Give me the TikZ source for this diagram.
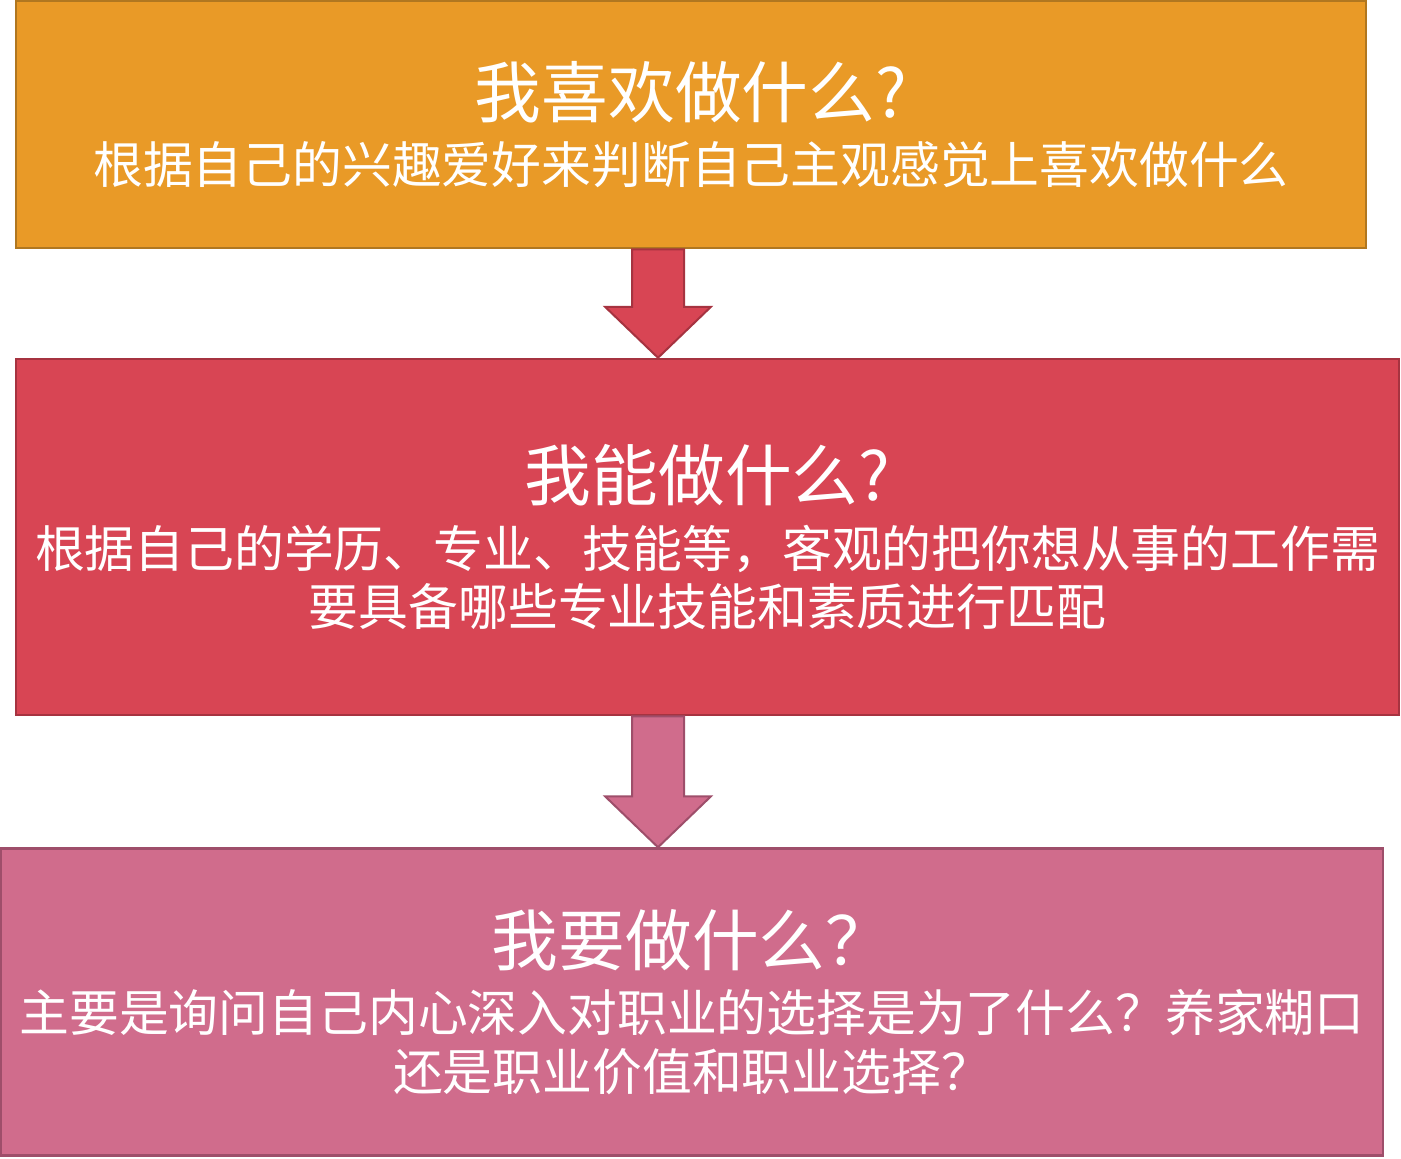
\documentclass[tikz,border=0pt]{standalone}
\usepackage{fontspec}
\setmainfont{Noto Sans CJK SC}
\usetikzlibrary{calc}
\definecolor{likefill}{HTML}{E99A27}
\definecolor{likeline}{HTML}{B07720}
\definecolor{canfill}{HTML}{D84554}
\definecolor{canline}{HTML}{A63340}
\definecolor{wantfill}{HTML}{D06C8C}
\definecolor{wantline}{HTML}{9E4E6A}
\newcommand\asktitle{\fontsize{67}{70}\selectfont}

\begin{document}
\begin{tikzpicture}[x=1bp, y=-1bp,
  box/.style={draw, line width=2.5bp, inner sep=0pt, text=white, align=center,
    font=\fontsize{50}{59}\selectfont},
  likebox/.style={box, fill=likefill, draw=likeline},
  canbox/.style={box, fill=canfill, draw=canline},
  wantbox/.style={box, fill=wantfill, draw=wantline},
  canarrow/.style={fill=canfill, draw=canline, line width=2bp, line join=miter},
  wantarrow/.style={fill=wantfill, draw=wantline, line width=2bp, line join=miter}]
  \useasboundingbox (0,0) rectangle (1401,1158);
  \coordinate (mid) at (658,0);
  % three questions
  \node[likebox, minimum width=1350bp, minimum height=247bp] (like) at (691,124.5)
    {{\asktitle 我喜欢做什么?}\\[8pt]根据自己的兴趣爱好来判断自己主观感觉上喜欢做什么};
  \node[canbox, minimum width=1383bp, minimum height=356bp] (can) at (707.5,537)
    {{\asktitle 我能做什么?}\\[8pt]根据自己的学历、专业、技能等，客观的把你想从事的工作需\\要具备哪些专业技能和素质进行匹配};
  \node[wantbox, minimum width=1382bp, minimum height=307bp] (want) at (692,1002)
    {{\asktitle 我要做什么？}\\[8pt]主要是询问自己内心深入对职业的选择是为了什么？养家糊口\\还是职业价值和职业选择？};
  % arrows between them
  \foreach \a/\b/\c in {like/can/canarrow, can/want/wantarrow}
    \draw[\c] ($(\a.south -| mid)+(-26,0)$) -- ($(\b.north -| mid)+(-26,-51)$)
      -- ($(\b.north -| mid)+(-53,-51)$) -- (\b.north -| mid)
      -- ($(\b.north -| mid)+(53,-51)$) -- ($(\b.north -| mid)+(26,-51)$)
      -- ($(\a.south -| mid)+(26,0)$) -- cycle;
\end{tikzpicture}
\end{document}
